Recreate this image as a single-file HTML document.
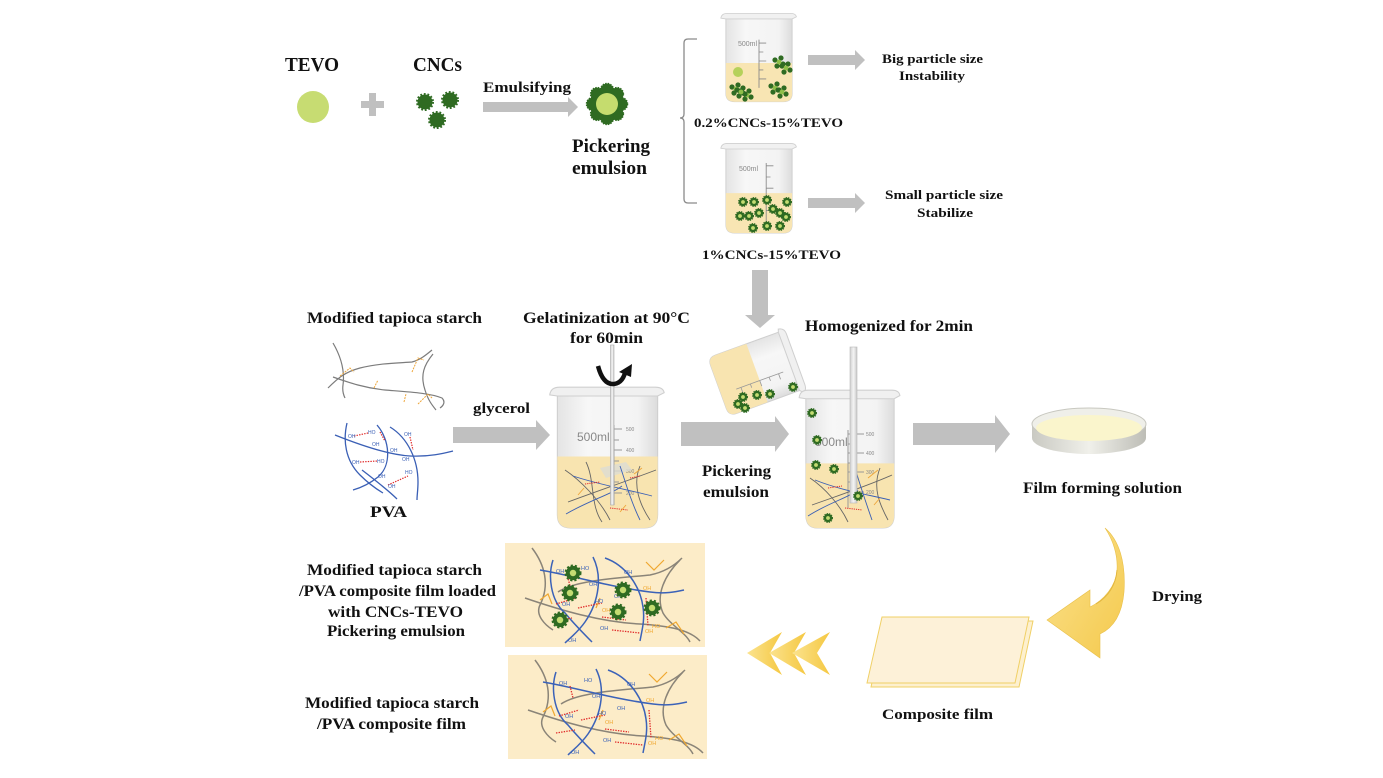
<!DOCTYPE html>
<html><head><meta charset="utf-8"><style>
html,body{margin:0;padding:0;background:#fff;}
svg{display:block;}
.t{font-family:"Liberation Serif","Times New Roman",serif;font-weight:bold;fill:#111;}
.s{font-family:"Liberation Sans",Arial,sans-serif;fill:#888;}
</style></head><body>
<svg width="1383" height="778" viewBox="0 0 1383 778" xmlns="http://www.w3.org/2000/svg">
<defs>
<linearGradient id="glass" x1="0" y1="0" x2="1" y2="0">
<stop offset="0" stop-color="#e4e4e4"/><stop offset="0.3" stop-color="#f7f7f7"/><stop offset="0.8" stop-color="#f3f3f3"/><stop offset="1" stop-color="#dcdcdc"/></linearGradient>
<linearGradient id="rod" x1="0" y1="0" x2="1" y2="0">
<stop offset="0" stop-color="#cfcfcf"/><stop offset="0.5" stop-color="#f4f4f4"/><stop offset="1" stop-color="#c8c8c8"/></linearGradient>
<linearGradient id="gold" x1="0" y1="0" x2="1" y2="0">
<stop offset="0" stop-color="#fbe38f"/><stop offset="1" stop-color="#f5c842"/></linearGradient>
<linearGradient id="dry" x1="0" y1="0" x2="1" y2="1">
<stop offset="0" stop-color="#fbe28f"/><stop offset="1" stop-color="#f4c94c"/></linearGradient>
<linearGradient id="dish" x1="0" y1="0" x2="1" y2="0">
<stop offset="0" stop-color="#c9c9c2"/><stop offset="0.5" stop-color="#f0f0ea"/><stop offset="1" stop-color="#bdbdb6"/></linearGradient>
<g id="pe"><circle r="4.2" fill="#2f6b22" stroke="#2f6b22" stroke-width="1.6" stroke-dasharray="1.2 1.1"/><circle r="1.9" fill="#c4dc72"/></g>
<g id="cnc"><circle r="7.5" fill="#2f6b22" stroke="#2f6b22" stroke-width="3" stroke-dasharray="1.7 1.7"/></g>
<g id="clu"><circle cx="-4" cy="-2" r="2.6" fill="#2f6b22"/><circle cx="2" cy="-4" r="2.6" fill="#2f6b22"/><circle cx="4" cy="2" r="2.6" fill="#2f6b22"/><circle cx="-2" cy="4" r="2.6" fill="#2f6b22"/><circle r="2.4" fill="#8fbf4a"/></g>
</defs>

<!-- ===== TOP ROW ===== -->
<text class="t" x="285" y="71" font-size="20" textLength="54" lengthAdjust="spacingAndGlyphs">TEVO</text>
<circle cx="313" cy="107" r="16" fill="#c7dc72"/>
<rect x="361" y="101" width="23" height="7" fill="#c0c0c0"/>
<rect x="369" y="93" width="7" height="23" fill="#c0c0c0"/>
<text class="t" x="413" y="71" font-size="20" textLength="49" lengthAdjust="spacingAndGlyphs">CNCs</text>
<use href="#cnc" x="425" y="102"/>
<use href="#cnc" x="450" y="100"/>
<use href="#cnc" x="437" y="120"/>
<text class="t" x="483" y="92" font-size="15" textLength="88" lengthAdjust="spacingAndGlyphs">Emulsifying</text>
<polygon points="483,102 568,102 568,97 578,107 568,117 568,112 483,112" fill="#c0c0c0"/>
<!-- big emulsion particle -->
<g transform="translate(607,104)">
<g fill="#2f6b22" stroke="#2f6b22" stroke-width="1.5" stroke-dasharray="1.4 1.2">
<circle cx="14" cy="0" r="6.5"/><circle cx="9.9" cy="9.9" r="6.5"/><circle cx="0" cy="14" r="6.5"/><circle cx="-9.9" cy="9.9" r="6.5"/>
<circle cx="-14" cy="0" r="6.5"/><circle cx="-9.9" cy="-9.9" r="6.5"/><circle cx="0" cy="-14" r="6.5"/><circle cx="9.9" cy="-9.9" r="6.5"/></g>
<circle r="11" fill="#c5dc6e"/>
</g>
<text class="t" x="572" y="152" font-size="19" textLength="78" lengthAdjust="spacingAndGlyphs">Pickering</text>
<text class="t" x="572" y="174" font-size="19" textLength="75" lengthAdjust="spacingAndGlyphs">emulsion</text>

<!-- bracket -->
<path d="M697,39 L688,39 Q684,39 684,43 L684,114 Q684,118 680,118 Q684,118 684,122 L684,199 Q684,203 688,203 L697,203" fill="none" stroke="#8a8a8a" stroke-width="1.3"/>

<!-- beaker 1 -->
<g transform="translate(723,12) scale(0.72,0.69)">
<path d="M4,8 L4,118 Q4,130 16,130 L84,130 Q96,130 96,118 L96,8 Z" fill="url(#glass)" stroke="#cfcfcf" stroke-width="1.3"/>
<path d="M4,74 L96,74 L96,118 Q96,130 84,130 L16,130 Q4,130 4,118 Z" fill="#f8e5b3"/>
<path d="M-3,9 Q-2,2 6,2 L94,2 Q101,2 102,7 L96,10 L4,10 Z" fill="#f1f1f1" stroke="#cfcfcf" stroke-width="1.2"/>
<path d="M50,40 L50,110 M50,45 L60,45 M50,58 L56,58 M50,71 L60,71 M50,84 L56,84 M50,97 L60,97" stroke="#888" stroke-width="1.2" fill="none"/>
</g>
<text class="s" x="738" y="46" font-size="7">500ml</text>
<circle cx="738" cy="72" r="5" fill="#b5d15a"/>
<use href="#clu" x="779" y="62"/><use href="#clu" x="786" y="68"/>
<use href="#clu" x="736" y="89"/><use href="#clu" x="747" y="95"/><use href="#clu" x="741" y="92"/>
<use href="#clu" x="775" y="88"/><use href="#clu" x="782" y="92"/>
<text class="t" x="694" y="127" font-size="13" textLength="149" lengthAdjust="spacingAndGlyphs">0.2%CNCs-15%TEVO</text>
<polygon points="808,55 855,55 855,50 865,60 855,70 855,65 808,65" fill="#c0c0c0"/>
<text class="t" x="882" y="63" font-size="13" textLength="101" lengthAdjust="spacingAndGlyphs">Big particle size</text>
<text class="t" x="899" y="80" font-size="13" textLength="66" lengthAdjust="spacingAndGlyphs">Instability</text>

<!-- beaker 2 -->
<g transform="translate(723,142) scale(0.72,0.70)">
<path d="M4,8 L4,118 Q4,130 16,130 L84,130 Q96,130 96,118 L96,8 Z" fill="url(#glass)" stroke="#cfcfcf" stroke-width="1.3"/>
<path d="M4,73 L96,73 L96,118 Q96,130 84,130 L16,130 Q4,130 4,118 Z" fill="#f8e5b3"/>
<path d="M-3,9 Q-2,2 6,2 L94,2 Q101,2 102,7 L96,10 L4,10 Z" fill="#f1f1f1" stroke="#cfcfcf" stroke-width="1.2"/>
<path d="M60,30 L60,122 M60,34 L70,34 M60,50 L66,50 M60,66 L70,66 M60,82 L66,82 M60,98 L70,98" stroke="#888" stroke-width="1.2" fill="none"/>
</g>
<text class="s" x="739" y="171" font-size="7">500ml</text>
<use href="#pe" x="743" y="202"/><use href="#pe" x="754" y="202"/><use href="#pe" x="767" y="200"/><use href="#pe" x="787" y="202"/>
<use href="#pe" x="740" y="216"/><use href="#pe" x="749" y="216"/><use href="#pe" x="759" y="213"/><use href="#pe" x="773" y="209"/>
<use href="#pe" x="780" y="213"/><use href="#pe" x="786" y="217"/><use href="#pe" x="753" y="228"/><use href="#pe" x="767" y="226"/><use href="#pe" x="780" y="226"/>
<text class="t" x="702" y="259" font-size="13" textLength="139" lengthAdjust="spacingAndGlyphs">1%CNCs-15%TEVO</text>
<polygon points="808,198 855,198 855,193 865,203 855,213 855,208 808,208" fill="#c0c0c0"/>
<text class="t" x="885" y="199" font-size="13" textLength="118" lengthAdjust="spacingAndGlyphs">Small particle size</text>
<text class="t" x="917" y="217" font-size="13" textLength="56" lengthAdjust="spacingAndGlyphs">Stabilize</text>

<!-- down arrow -->
<polygon points="752,270 768,270 768,315 775,315 760,328 745,315 752,315" fill="#c0c0c0"/>

<!-- ===== MIDDLE ROW ===== -->
<text class="t" x="307" y="323" font-size="16" textLength="175" lengthAdjust="spacingAndGlyphs">Modified tapioca starch</text>
<!-- starch -->
<g fill="none" stroke="#7c7c7c" stroke-width="1.2">
<path d="M333,343 C340,355 345,370 343,385 C342,392 344,396 345,398"/>
<path d="M328,388 C338,378 345,372 360,368 C380,363 400,363 412,362 C420,360 426,355 432,350"/>
<path d="M333,377 C350,383 365,388 385,390 C410,392 430,393 442,398 C446,402 443,406 440,408"/>
<path d="M433,354 C424,365 420,375 425,390 C428,400 432,405 436,410"/>
</g>
<g fill="none" stroke="#eea63a" stroke-width="1" stroke-dasharray="2 1">
<path d="M340,376 L350,368 L354,372"/><path d="M412,372 L418,358 L424,360"/><path d="M374,388 L378,380"/>
<path d="M404,402 L406,394"/><path d="M418,404 L428,394 L432,398"/>
</g>
<!-- PVA -->
<g fill="none" stroke="#3a5fb5" stroke-width="1.3">
<path d="M335,435 C360,445 390,455 410,456 C430,457 445,453 453,451"/>
<path d="M347,423 C343,440 345,460 360,475 C370,485 378,490 383,493"/>
<path d="M377,425 C390,440 392,465 378,477 C368,485 360,488 353,490"/>
<path d="M390,427 C408,438 418,460 418,482 C418,490 417,495 417,500"/>
<path d="M362,470 C375,480 390,492 397,499"/>
</g>
<g fill="none" stroke="#e02a2a" stroke-width="1.2" stroke-dasharray="1.4 1.2">
<path d="M354,436 L368,433"/><path d="M380,432 L385,441"/><path d="M360,462 L378,461"/><path d="M388,485 L408,476"/><path d="M410,437 L413,450"/>
</g>
<g font-family="Liberation Sans,sans-serif" font-size="5" fill="#3a5fb5">
<text x="348" y="438">OH</text><text x="368" y="434">HO</text><text x="372" y="446">OH</text><text x="390" y="452">OH</text>
<text x="352" y="464">OH</text><text x="377" y="463">HO</text><text x="378" y="478">OH</text><text x="388" y="488">OH</text><text x="405" y="474">HO</text><text x="404" y="436">OH</text><text x="402" y="461">OH</text>
</g>
<text class="t" x="370" y="517" font-size="16" textLength="37" lengthAdjust="spacingAndGlyphs">PVA</text>
<text class="t" x="473" y="413" font-size="15" textLength="57" lengthAdjust="spacingAndGlyphs">glycerol</text>
<polygon points="453,427 536,427 536,420 550,435 536,450 536,443 453,443" fill="#c0c0c0"/>

<text class="t" x="523" y="323" font-size="16" textLength="167" lengthAdjust="spacingAndGlyphs">Gelatinization at 90°C</text>
<text class="t" x="570" y="343" font-size="16" textLength="73" lengthAdjust="spacingAndGlyphs">for 60min</text>

<!-- beaker 3 -->
<g transform="translate(553,385) scale(1.09,1.1)">
<path d="M4,8 L4,118 Q4,130 16,130 L84,130 Q96,130 96,118 L96,8 Z" fill="url(#glass)" stroke="#cfcfcf" stroke-width="1"/>
<path d="M4,65 L96,65 L96,118 Q96,130 84,130 L16,130 Q4,130 4,118 Z" fill="#f8e4b0"/>
<path d="M-3,9 Q-2,2 6,2 L94,2 Q101,2 102,7 L96,10 L4,10 Z" fill="#f0f0f0" stroke="#cfcfcf" stroke-width="1"/>
</g>
<text class="s" x="577" y="441" font-size="12" fill="#777">500ml</text>
<path d="M614,425 L614,505 M614,429 L622,429 M614,440 L619,440 M614,450 L622,450 M614,461 L619,461 M614,471 L622,471 M614,482 L619,482 M614,493 L622,493" stroke="#999" stroke-width="1" fill="none"/>
<g class="s" font-size="5"><text x="626" y="431">500</text><text x="626" y="452">400</text><text x="626" y="473">300</text><text x="626" y="495">200</text></g>
<path d="M600,468 L626,462 L632,470 L606,478 Z" fill="#dcdcd4" opacity="0.8"/>
<g fill="none" stroke="#666" stroke-width="0.9">
<path d="M565,470 C580,480 600,500 610,520"/><path d="M568,502 C600,490 630,480 656,470"/>
<path d="M586,462 C595,480 590,505 602,522"/><path d="M640,466 C632,485 640,505 650,520"/>
</g>
<g fill="none" stroke="#3a5fb5" stroke-width="0.9">
<path d="M573,476 C600,485 630,490 652,496"/><path d="M620,466 C625,480 630,500 640,520"/><path d="M566,514 C590,500 610,495 622,486"/>
</g>
<g fill="none" stroke="#e02a2a" stroke-width="1" stroke-dasharray="1.2 1"><path d="M585,484 L600,482"/><path d="M610,508 L628,510"/><path d="M630,478 L640,476"/></g>
<g fill="none" stroke="#eea63a" stroke-width="0.9"><path d="M634,474 L642,468"/><path d="M578,495 L584,488"/><path d="M620,512 L626,505"/></g>
<rect x="610.5" y="345" width="3.5" height="160" fill="url(#rod)" stroke="#aaa" stroke-width="0.6"/>
<!-- rotation arrow -->
<path d="M598,366 Q603,385 614,384 Q622,383 625,373" fill="none" stroke="#111" stroke-width="4.5"/>
<polygon points="619,372 632,364 631,377" fill="#111"/>

<polygon points="681,422 775,422 775,416 789,434 775,452 775,446 681,446" fill="#c0c0c0"/>
<text class="t" x="702" y="476" font-size="16" textLength="69" lengthAdjust="spacingAndGlyphs">Pickering</text>
<text class="t" x="703" y="497" font-size="16" textLength="66" lengthAdjust="spacingAndGlyphs">emulsion</text>

<!-- tilted beaker -->
<g transform="translate(757,373) rotate(70)">
<path d="M-31,-36 L-31,33 Q-31,41 -23,41 L23,41 Q31,41 31,33 L31,-36 Z" fill="url(#glass)" stroke="#cfcfcf" stroke-width="1"/>
<path d="M-31,0 L31,0 L31,33 Q31,41 23,41 L-23,41 Q-31,41 -31,33 Z" fill="#f8e4b0"/>
<path d="M-34,-35 Q-33,-41 -27,-41 L27,-41 Q33,-41 34,-37 L31,-34 L-31,-34 Z" fill="#f0f0f0" stroke="#cfcfcf" stroke-width="1"/>
<path d="M8,-25 L8,25 M8,-20 L14,-20 M8,-10 L12,-10 M8,0 L14,0 M8,10 L12,10 M8,20 L14,20" stroke="#999" stroke-width="0.8" fill="none"/>
</g>
<use href="#pe" x="743" y="397"/><use href="#pe" x="757" y="395"/><use href="#pe" x="770" y="394"/>
<use href="#pe" x="738" y="404"/><use href="#pe" x="745" y="408"/><use href="#pe" x="793" y="387"/>

<!-- beaker 4 -->
<g transform="translate(802,388) scale(0.96,1.077)">
<path d="M4,8 L4,118 Q4,130 16,130 L84,130 Q96,130 96,118 L96,8 Z" fill="url(#glass)" stroke="#cfcfcf" stroke-width="1"/>
<path d="M4,70 L96,70 L96,118 Q96,130 84,130 L16,130 Q4,130 4,118 Z" fill="#f8e4b0"/>
<path d="M-3,9 Q-2,2 6,2 L94,2 Q101,2 102,7 L96,10 L4,10 Z" fill="#f0f0f0" stroke="#cfcfcf" stroke-width="1"/>
</g>
<text class="s" x="815" y="446" font-size="12" fill="#777">500ml</text>
<path d="M848,430 L848,508 M848,434 L864,434 M848,444 L856,444 M848,453 L864,453 M848,463 L856,463 M848,472 L864,472 M848,482 L856,482 M848,492 L864,492" stroke="#999" stroke-width="1" fill="none"/>
<g class="s" font-size="5"><text x="866" y="436">500</text><text x="866" y="455">400</text><text x="866" y="474">300</text><text x="866" y="494">200</text></g>
<g fill="none" stroke="#666" stroke-width="0.9">
<path d="M810,478 C825,488 840,505 848,522"/><path d="M812,505 C840,495 870,485 892,475"/><path d="M880,468 C872,488 880,505 888,520"/>
</g>
<g fill="none" stroke="#3a5fb5" stroke-width="0.9">
<path d="M815,480 C840,490 865,494 890,500"/><path d="M855,468 C860,485 865,500 872,520"/><path d="M808,516 C830,502 848,498 858,490"/>
</g>
<g fill="none" stroke="#e02a2a" stroke-width="1" stroke-dasharray="1.2 1"><path d="M828,488 L842,486"/><path d="M845,508 L862,510"/></g>
<g fill="none" stroke="#eea63a" stroke-width="0.9"><path d="M868,478 L878,470"/><path d="M874,505 L880,498"/></g>
<rect x="850" y="347" width="7" height="156" fill="url(#rod)" stroke="#b8b8b8" stroke-width="0.6"/>
<use href="#pe" x="812" y="413"/><use href="#pe" x="817" y="440"/><use href="#pe" x="816" y="465"/>
<use href="#pe" x="834" y="469"/><use href="#pe" x="858" y="496"/><use href="#pe" x="828" y="518"/>
<text class="t" x="805" y="331" font-size="16" textLength="168" lengthAdjust="spacingAndGlyphs">Homogenized for 2min</text>

<polygon points="913,423 995,423 995,415 1010,434 995,453 995,445 913,445" fill="#c0c0c0"/>

<!-- petri dish -->
<path d="M1032,424 L1032,438 A57,16 0 0 0 1146,438 L1146,424 Z" fill="url(#dish)"/>
<ellipse cx="1089" cy="424" rx="57" ry="16" fill="#efefe9" stroke="#c8c8c0" stroke-width="1"/>
<ellipse cx="1089" cy="428" rx="53" ry="13" fill="#faf5cc"/>
<text class="t" x="1023" y="493" font-size="16" textLength="159" lengthAdjust="spacingAndGlyphs">Film forming solution</text>

<!-- drying arrow -->
<path d="M1105,528 C1119,540 1126,562 1124,592 C1122,615 1113,628 1100,634 L1100,658 L1047,620 L1090,590 L1090,607 C1104,600 1116,586 1117,570 C1118,555 1113,540 1105,528 Z" fill="url(#dry)" stroke="#e9c04a" stroke-width="0.6"/>
<path d="M1117,570 C1116,585 1108,597 1096,604" fill="none" stroke="#e3b73f" stroke-width="1"/>
<text class="t" x="1152" y="601" font-size="15" textLength="50" lengthAdjust="spacingAndGlyphs">Drying</text>

<!-- composite film -->
<polygon points="886,621 1033,621 1019,687 871,687" fill="#fdf0cf" stroke="#f0d066" stroke-width="1"/>
<polygon points="882,617 1029,617 1015,683 867,683" fill="#fdf1d8" stroke="#f0d066" stroke-width="1"/>
<text class="t" x="882" y="719" font-size="15" textLength="111" lengthAdjust="spacingAndGlyphs">Composite film</text>

<!-- chevrons -->
<polygon points="747,653 782,632 770,653 782,675" fill="url(#gold)"/>
<polygon points="769,653 806,632 794,653 806,675" fill="url(#gold)"/>
<polygon points="792,653 830,632 817,653 830,675" fill="url(#gold)"/>

<!-- ===== BOTTOM LEFT ===== -->
<text class="t" x="307" y="575" font-size="16" textLength="175" lengthAdjust="spacingAndGlyphs">Modified tapioca starch</text>
<text class="t" x="299" y="596" font-size="16" textLength="197" lengthAdjust="spacingAndGlyphs">/PVA composite film loaded</text>
<text class="t" x="328" y="617" font-size="16" textLength="135" lengthAdjust="spacingAndGlyphs">with CNCs-TEVO</text>
<text class="t" x="327" y="636" font-size="16" textLength="138" lengthAdjust="spacingAndGlyphs">Pickering emulsion</text>
<text class="t" x="305" y="708" font-size="16" textLength="174" lengthAdjust="spacingAndGlyphs">Modified tapioca starch</text>
<text class="t" x="317" y="729" font-size="16" textLength="149" lengthAdjust="spacingAndGlyphs">/PVA composite film</text>

<!-- box 1 -->
<rect x="505" y="543" width="200" height="104" fill="#fcecc8"/>
<g id="net">
<g fill="none" stroke="#8a8478" stroke-width="1.5">
<path d="M532,548 C545,565 550,585 540,605 C535,615 545,625 553,630"/>
<path d="M525,598 C560,610 600,622 640,624 C670,626 690,630 700,641"/>
<path d="M558,592 C575,580 620,578 650,575 C665,572 675,565 682,558"/>
<path d="M680,560 C665,575 655,595 663,613 C670,625 685,632 690,642"/>
</g>
<g fill="none" stroke="#3b62b8" stroke-width="1.5">
<path d="M540,570 C570,575 610,587 650,592 C665,594 675,592 684,590"/>
<path d="M553,560 C548,575 550,600 565,613 C575,625 585,635 592,642"/>
<path d="M593,557 C602,575 600,600 585,622 C578,632 570,638 565,643"/>
<path d="M605,558 C625,565 640,585 643,607 C645,620 642,630 640,641"/>
</g>
<g fill="none" stroke="#e02a2a" stroke-width="1.3" stroke-dasharray="1.4 1.2">
<path d="M556,604 L576,598"/><path d="M578,608 L602,603"/><path d="M602,617 L626,620"/><path d="M612,630 L640,633"/>
<path d="M646,598 L648,626"/><path d="M553,621 L572,618"/><path d="M567,574 L570,586"/>
</g>
<g fill="none" stroke="#f0a830" stroke-width="1.2">
<path d="M646,562 L654,570 L664,560"/><path d="M540,600 L548,594 L552,604"/><path d="M666,628 L676,622 L684,634"/><path d="M596,608 L600,598"/>
</g>
<g font-family="Liberation Sans,sans-serif" font-size="5.5" fill="#3b62b8">
<text x="556" y="573">OH</text><text x="581" y="570">HO</text><text x="589" y="586">OH</text><text x="624" y="574">OH</text>
<text x="614" y="598">OH</text><text x="562" y="606">OH</text><text x="595" y="603">HO</text><text x="600" y="630">OH</text><text x="568" y="642">OH</text>
</g>
<g font-family="Liberation Sans,sans-serif" font-size="5.5" fill="#f0a830">
<text x="643" y="590">OH</text><text x="645" y="633">OH</text><text x="652" y="628">HO</text><text x="602" y="612">OH</text>
</g>
</g>
<g transform="translate(573,573) scale(1.7)"><use href="#pe"/></g>
<g transform="translate(570,593) scale(1.7)"><use href="#pe"/></g>
<g transform="translate(623,590) scale(1.7)"><use href="#pe"/></g>
<g transform="translate(652,608) scale(1.7)"><use href="#pe"/></g>
<g transform="translate(618,612) scale(1.7)"><use href="#pe"/></g>
<g transform="translate(560,620) scale(1.7)"><use href="#pe"/></g>

<!-- box 2 -->
<rect x="508" y="655" width="199" height="104" fill="#fcecc8"/>
<use href="#net" transform="translate(3,112)"/>
</svg>
</body></html>
